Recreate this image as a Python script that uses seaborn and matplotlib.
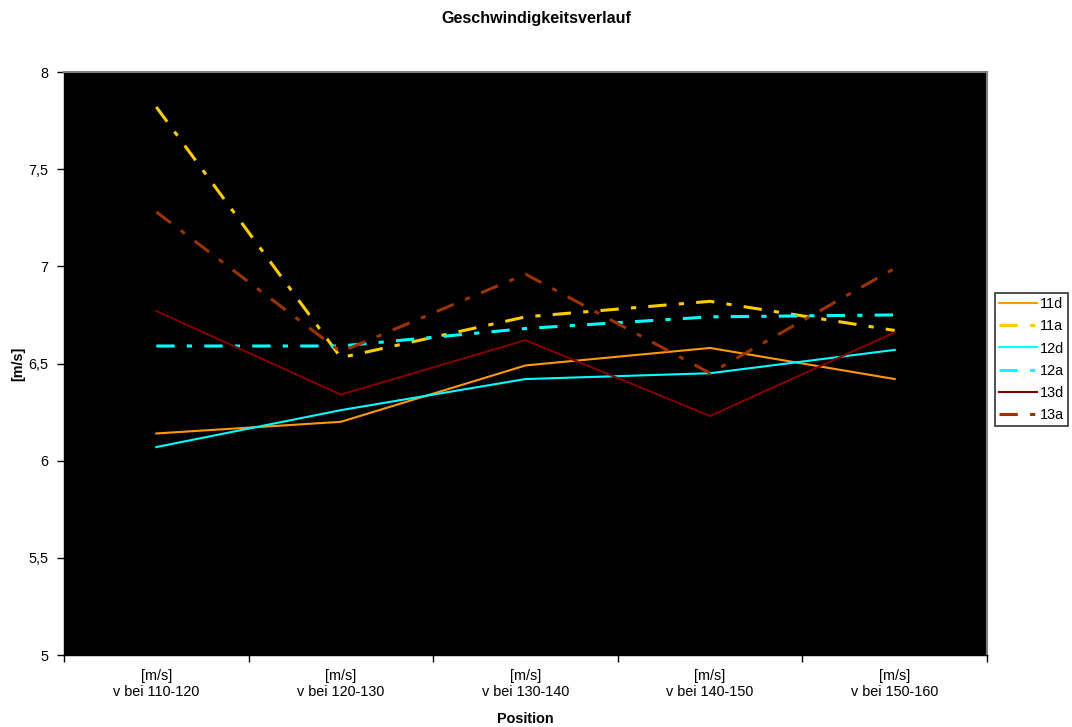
import matplotlib
matplotlib.use("Agg")
import matplotlib.pyplot as plt
import seaborn as sns
import pandas as pd
from matplotlib.ticker import FixedLocator, FixedFormatter, NullFormatter

# Daten
positionen = ["[m/s]\nv bei 110-120", "[m/s]\nv bei 120-130", "[m/s]\nv bei 130-140",
              "[m/s]\nv bei 140-150", "[m/s]\nv bei 150-160"]
serien = ["11d", "11a", "12d", "12a", "13d", "13a"]
v_11d = [6.14, 6.20, 6.49, 6.58, 6.42]
v_11a = [7.82, 6.53, 6.74, 6.82, 6.67]
v_12d = [6.07, 6.26, 6.42, 6.45, 6.57]
v_12a = [6.59, 6.59, 6.68, 6.74, 6.75]
v_13d = [6.77, 6.34, 6.62, 6.23, 6.66]
v_13a = [7.28, 6.56, 6.96, 6.45, 6.99]
werte = [v_11d, v_11a, v_12d, v_12a, v_13d, v_13a]

farben = {"11d": "#FF9900", "11a": "#FFCC00", "12d": "#00FFFF",
          "12a": "#00FFFF", "13d": "#800000", "13a": "#993300"}
strich = (6, 4, 1.7, 4)
dashes = {"11d": "", "11a": strich, "12d": "", "12a": strich, "13d": "", "13a": strich}
breiten = {"11d": 1.5, "11a": 2.2, "12d": 1.5, "12a": 2.2, "13d": 1.5, "13a": 2.2}

df = pd.DataFrame({
    "idx": list(range(len(positionen))) * len(serien),
    "v": [x for w in werte for x in w],
    "Serie": [s for s in serien for _ in positionen],
})

plt.rcParams["font.family"] = ["Liberation Sans", "DejaVu Sans"]
fs = 10.4

fig = plt.figure(figsize=(10.72, 7.27), dpi=100)
ax = fig.add_axes([64 / 1072, 1 - 655 / 727, 923 / 1072, 583 / 727])
ax.set_facecolor("black")

sns.lineplot(data=df, x="idx", y="v", hue="Serie", style="Serie", size="Serie",
             hue_order=serien, style_order=serien, size_order=serien,
             palette=farben, dashes=dashes, sizes=breiten, ax=ax)

ax.set_xlim(-0.5, len(positionen) - 0.5)
ax.set_ylim(5, 8)
ax.set_yticks([5, 5.5, 6, 6.5, 7, 7.5, 8])
ax.set_yticklabels(["5", "5,5", "6", "6,5", "7", "7,5", "8"], fontsize=fs)

# Ticks an den Kategoriegrenzen, Beschriftung mittig
ax.xaxis.set_major_locator(FixedLocator([i - 0.5 for i in range(len(positionen) + 1)]))
ax.xaxis.set_major_formatter(NullFormatter())
ax.xaxis.set_minor_locator(FixedLocator(list(range(len(positionen)))))
ax.xaxis.set_minor_formatter(FixedFormatter(positionen))
ax.tick_params(axis="x", which="minor", length=0, pad=10, labelsize=fs)
ax.tick_params(axis="x", which="major", length=5, width=1, direction="out")
ax.tick_params(axis="y", length=5, width=1, direction="out", pad=6)

for s in ["left", "bottom"]:
    ax.spines[s].set_color("black")
    ax.spines[s].set_linewidth(1)
for s in ["top", "right"]:
    ax.spines[s].set_color("#808080")
    ax.spines[s].set_linewidth(1.5)

ax.set_xlabel("Position", fontsize=fs, fontweight="bold")
ax.xaxis.set_label_coords(0.5, -0.097)
ax.set_ylabel("[m/s]", fontsize=fs, fontweight="bold")
ax.yaxis.set_label_coords(-0.042, 0.5)
fig.text(0.5, 1 - 18 / 727, "Geschwindigkeitsverlauf", ha="center", va="center",
         fontsize=11.6, fontweight="bold")

handles, labels = ax.get_legend_handles_labels()
leg = ax.legend(handles, labels, loc="upper left", bbox_to_anchor=(995 / 1072, 1 - 293 / 727),
                bbox_transform=fig.transFigure, frameon=True, fancybox=False,
                edgecolor="black", fontsize=fs, handlelength=2.6, borderpad=0.3,
                labelspacing=0.56, handletextpad=0.2, borderaxespad=0)
leg.get_frame().set_linewidth(1.2)

fig.savefig("out.png", dpi=100, facecolor="white")
